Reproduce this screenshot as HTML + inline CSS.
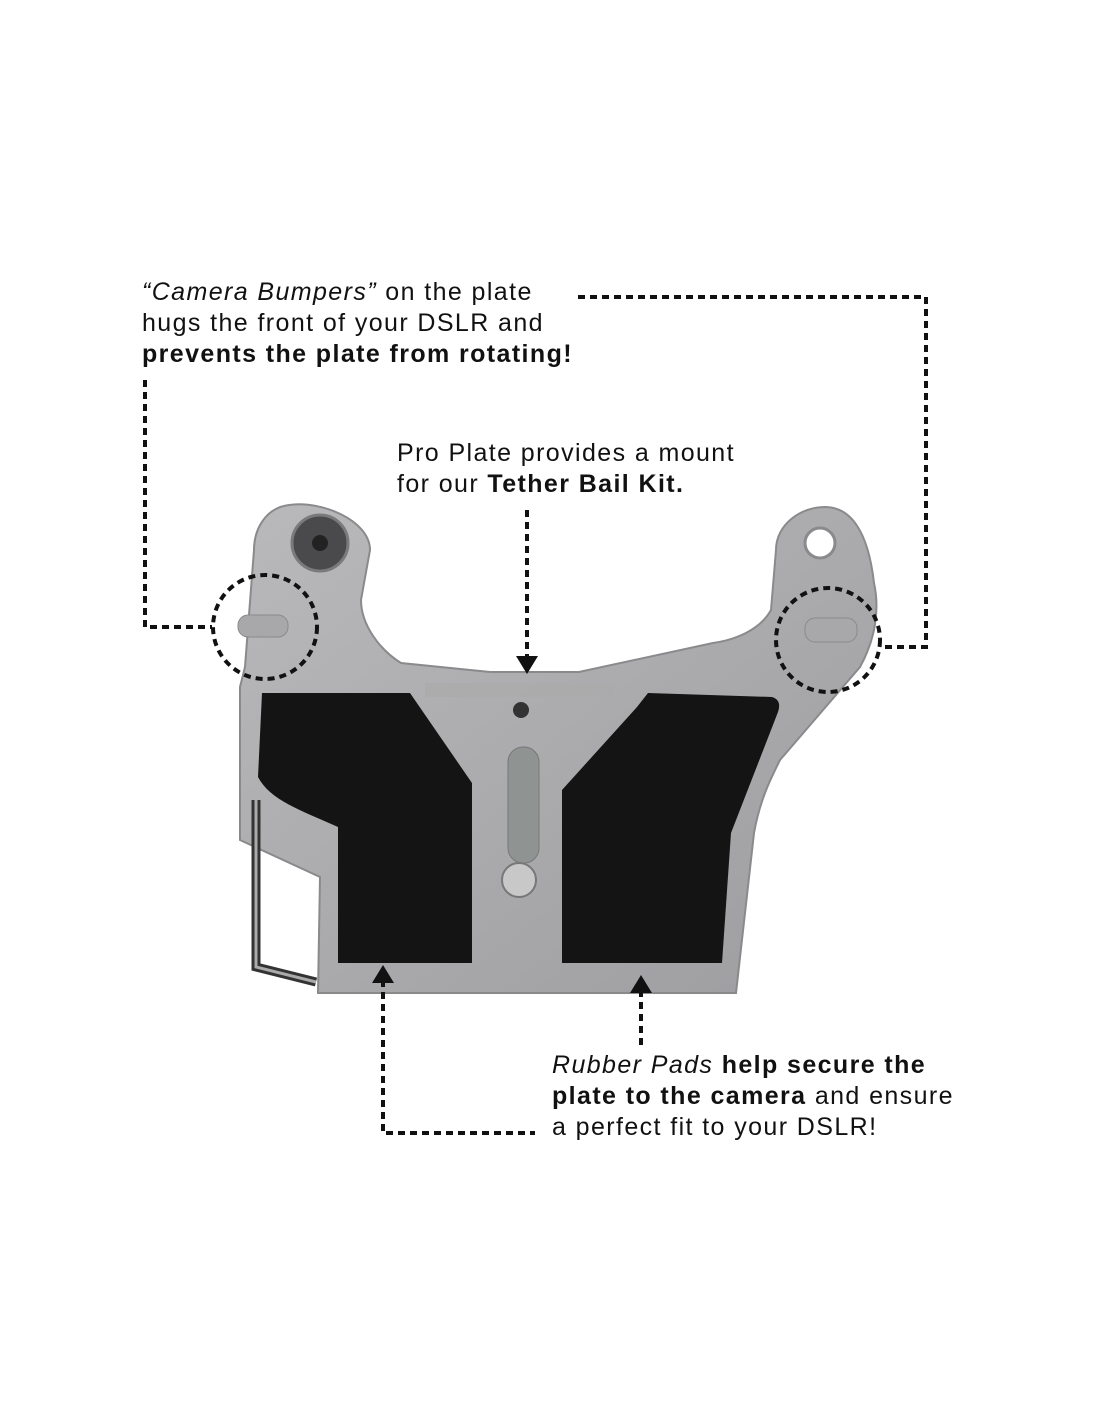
<!DOCTYPE html>
<html><head><meta charset="utf-8"><style>
body{margin:0;width:1100px;height:1422px;background:#fff;position:relative;overflow:hidden;font-family:"Liberation Sans",sans-serif;color:#111}
.t{position:absolute;font-size:25px;line-height:31px;letter-spacing:1.4px;white-space:nowrap}
b{font-weight:bold}
</style></head><body>
<svg width="1100" height="1422" style="position:absolute;left:0;top:0">
<defs><linearGradient id="g" x1="0" y1="0" x2="1" y2="1"><stop offset="0" stop-color="#b9b9bb"/><stop offset="1" stop-color="#9d9da0"/></linearGradient></defs>
<path d="M289,505 C265,508 254,530 254,550 L245,667 L240,687 L240,840 L320,877 L318,993 L736,993 L754,833 C760,800 770,780 780,760 L860,667 C875,640 880,610 874,583 C868,530 850,507 825,507 C800,507 776,525 776,550 L771,610 C760,630 735,640 713,643 L579,672 L490,672 L401,663 C380,650 361,625 361,600 L370,550 C370,520 320,500 289,505 Z" fill="url(#g)" stroke="#8a8a8d" stroke-width="2"/>
<path d="M262,693 L410,693 L472,783 L472,963 L338,963 L338,827 C300,810 270,800 258,777 Z" fill="#141414"/>
<path d="M648,693 L772,697 Q782,700 778,712 L731,833 L722,963 L562,963 L562,790 L637,707 Z" fill="#141414"/>
<circle cx="320" cy="543" r="28" fill="#4a4a4c" stroke="#7a7a7d" stroke-width="3"/>
<circle cx="320" cy="543" r="8" fill="#222"/>
<circle cx="820" cy="543" r="15" fill="#fff" stroke="#8a8a8d" stroke-width="3"/>
<rect x="238" y="615" width="50" height="22" rx="10" fill="#a8a8ab" stroke="#8a8a8d"/>
<rect x="805" y="618" width="52" height="24" rx="10" fill="#a8a8ab" stroke="#8a8a8d"/>
<rect x="508" y="747" width="31" height="116" rx="15" fill="#8f9493" stroke="#777"/>
<circle cx="519" cy="880" r="17" fill="#c8c8c8" stroke="#777" stroke-width="2"/>
<circle cx="521" cy="710" r="8" fill="#333"/>
<rect x="425" y="683" width="190" height="14" fill="#aaa" opacity="0.6"/>
<path d="M256,800 L256,967 L316,982" fill="none" stroke="#333" stroke-width="9"/>
<path d="M256,800 L256,967 L316,982" fill="none" stroke="#aaa" stroke-width="3"/>
<g fill="none" stroke="#111" stroke-width="4" stroke-dasharray="7,5">
<path d="M578,297 L926,297 L926,647 L880,647"/>
<path d="M145,380 L145,627 L212,627"/>
<circle cx="265" cy="627" r="52"/>
<circle cx="828" cy="640" r="52"/>
<path d="M527,510 L527,658"/>
<path d="M641,1045 L641,985"/>
<path d="M383,980 L383,1133 L535,1133"/>
</g>
<path d="M516,656 L538,656 L527,674 Z" fill="#111"/>
<path d="M630,993 L652,993 L641,975 Z" fill="#111"/>
<path d="M372,983 L394,983 L383,965 Z" fill="#111"/>
</svg>
<div class="t" style="left:142px;top:277px"><i>“Camera Bumpers”</i> on the plate<br>hugs the front of your DSLR and<br><b>prevents the plate from rotating!</b></div>
<div class="t" style="left:397px;top:438px">Pro Plate provides a mount<br>for our <b>Tether Bail Kit.</b></div>
<div class="t" style="left:552px;top:1050px"><i>Rubber Pads</i> <b>help secure the</b><br><b>plate to the camera</b> and ensure<br>a perfect fit to your DSLR!</div>
</body></html>
